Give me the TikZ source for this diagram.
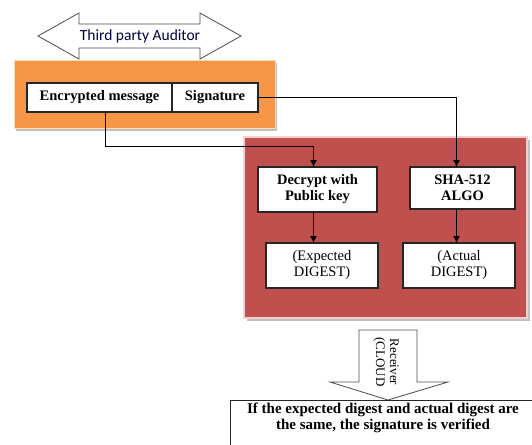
\documentclass[tikz,border=0pt]{standalone}
\usepackage{fontspec}
\usetikzlibrary{arrows.meta}
\setmainfont{Liberation Serif}
\newfontfamily\labelfont{Carlito}
\definecolor{tpaorange}{HTML}{F79646}
\definecolor{cloudred}{HTML}{C0504D}
\tikzset{
  procbox/.style={draw=black!85, fill=white, line width=1.2pt, align=center,
    inner sep=0pt, outer sep=0pt, font=\bfseries\fontsize{14.5}{16}\selectfont},
  flow/.style={line width=0.9pt, -{Latex[length=7pt,width=7pt]}}
}
\begin{document}
\begin{tikzpicture}[x=1pt, y=-1pt]
    \useasboundingbox (0,0) rectangle (532,444);
    % \draw [help lines, step=20] (0,0) grid (532,444);

    % auditor double arrow
    \draw [line width=0.8pt, draw=black!70, fill=white] (38,36) -- (79,13) -- (79,24) -- (200,24) -- (200,13)
        -- (241,36) -- (200,59) -- (200,48) -- (79,48) -- (79,59) -- cycle;
    \node (tpa) [font=\labelfont\fontsize{15.5}{17}\selectfont, text=black!75!blue] at (140,36) {Third party Auditor};

    % sender panel
    \fill [black!25] (16,63) rectangle (277,131);
    \draw [fill=tpaorange, draw=orange!30] (14,60) rectangle (275,128);
    \node (enc) [procbox, minimum width=145, minimum height=29] at (99.5,97.5) {Encrypted message};
    \node (sig) [procbox, minimum width=86, minimum height=29] at (215,97.5) {Signature};

    % receiver panel
    \fill [black!25] (247,140) rectangle (530,321);
    \draw [fill=cloudred, draw=red!20, line width=1.5pt] (244,137) rectangle (527,318);
    \node (dec) [procbox, minimum width=119, minimum height=45] at (317.5,189.5) {Decrypt with\\Public key};
    \node (sha) [procbox, minimum width=105, minimum height=42] at (462.5,188) {SHA-512\\ALGO};
    \node (exp) [procbox, minimum width=112, minimum height=45, font=\fontsize{14.5}{16}\selectfont] at (322,265.5) {(Expected\\DIGEST)};
    \node (act) [procbox, minimum width=112, minimum height=45, font=\fontsize{14.5}{16}\selectfont] at (459,265.5) {(Actual\\DIGEST)};

    \draw [flow] ([xshift=6pt]enc.south) -- ++(0,34) -| ([xshift=-4pt]dec.north);
    \draw [flow] (sig.east) -| ([xshift=-6pt]sha.north);
    \draw [flow] ([xshift=-4pt]dec.south) -- ([xshift=-4pt]dec.south |- exp.north);
    \draw [flow] ([xshift=-6pt]sha.south) -- ([xshift=-6pt]sha.south |- act.north);

    % down arrow to result
    \draw [line width=0.8pt, draw=black!70, fill=white] (359,330) -- (417,330) -- (417,382) -- (448,382)
        -- (388,400) -- (330,382) -- (359,382) -- cycle;
    \node (rcv) [rotate=-90, align=center, font=\fontsize{13}{14}\selectfont] at (386,362) {Receiver\\(CLOUD};

    \node (res) [draw=black!85, line width=1pt, fill=white, anchor=north west, minimum width=330, minimum height=60,
        inner sep=0pt] at (230,400) {};
    \node (restext) [align=center, font=\bfseries\fontsize{15}{16}\selectfont] at (383,418)
        {If the expected digest and actual digest are\\the same, the signature is verified};
\end{tikzpicture}
\end{document}
